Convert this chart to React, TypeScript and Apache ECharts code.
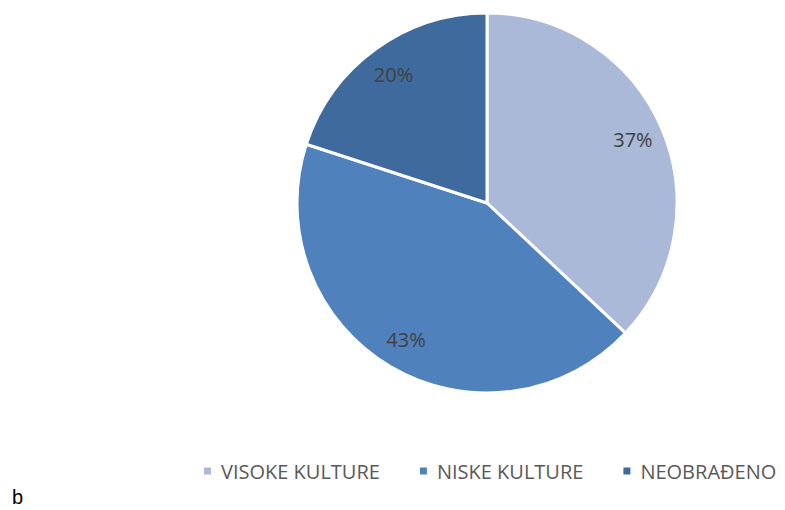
import React, { useEffect, useRef } from "react";
import * as echarts from "echarts";

const categories = ["VISOKE KULTURE", "NISKE KULTURE", "NEOBRAĐENO"];
const values = [37, 43, 20];
const colors = ["#A9B9D7", "#4F81BD", "#3F6A9D"];

export default function App() {
  const ref = useRef<HTMLDivElement>(null);
  useEffect(() => {
    if (!ref.current) return;
    const chart = echarts.init(ref.current, undefined, { renderer: "svg" });
    const data = categories.map((name, i) => ({
      name,
      value: values[i],
      itemStyle: { color: colors[i] },
    }));
    chart.setOption({
      animation: false,
      legend: {
        data: categories,
        left: 197,
        top: 456,
        icon: "rect",
        itemWidth: 9,
        itemHeight: 9,
        itemGap: 38,
        textStyle: { fontFamily: "Open Sans", fontSize: 20, color: "#595959", padding: [0, 0, 0, 4] },
      },
      graphic: [
        {
          type: "text",
          left: 12,
          top: 487,
          style: { text: "b", font: '20px "Liberation Sans"', fill: "#000" },
        },
      ],
      series: [
        {
          type: "pie",
          center: [487, 203],
          radius: [0, 190],
          startAngle: 90,
          clockwise: true,
          data,
          label: { show: false },
          labelLine: { show: false },
          itemStyle: { borderColor: "#fff", borderWidth: 3 },
          emphasis: { disabled: true },
        },
        {
          type: "pie",
          center: [487, 203],
          radius: [126, 186],
          startAngle: 90,
          clockwise: true,
          silent: true,
          data: categories.map((name, i) => ({
            name,
            value: values[i],
            itemStyle: { color: "rgba(0,0,0,0)" },
          })),
          legendHoverLink: false,
          label: {
            show: true,
            position: "inside",
            formatter: "{c}%",
            fontFamily: "Open Sans",
            fontSize: 20,
            color: "#404040",
          },
          labelLine: { show: false },
          itemStyle: { borderWidth: 0 },
          emphasis: { disabled: true },
        },
      ],
    });
    return () => chart.dispose();
  }, []);
  return <div ref={ref} style={{ width: 785, height: 510, position: "absolute", left: 0, top: 0 }} />;
}
